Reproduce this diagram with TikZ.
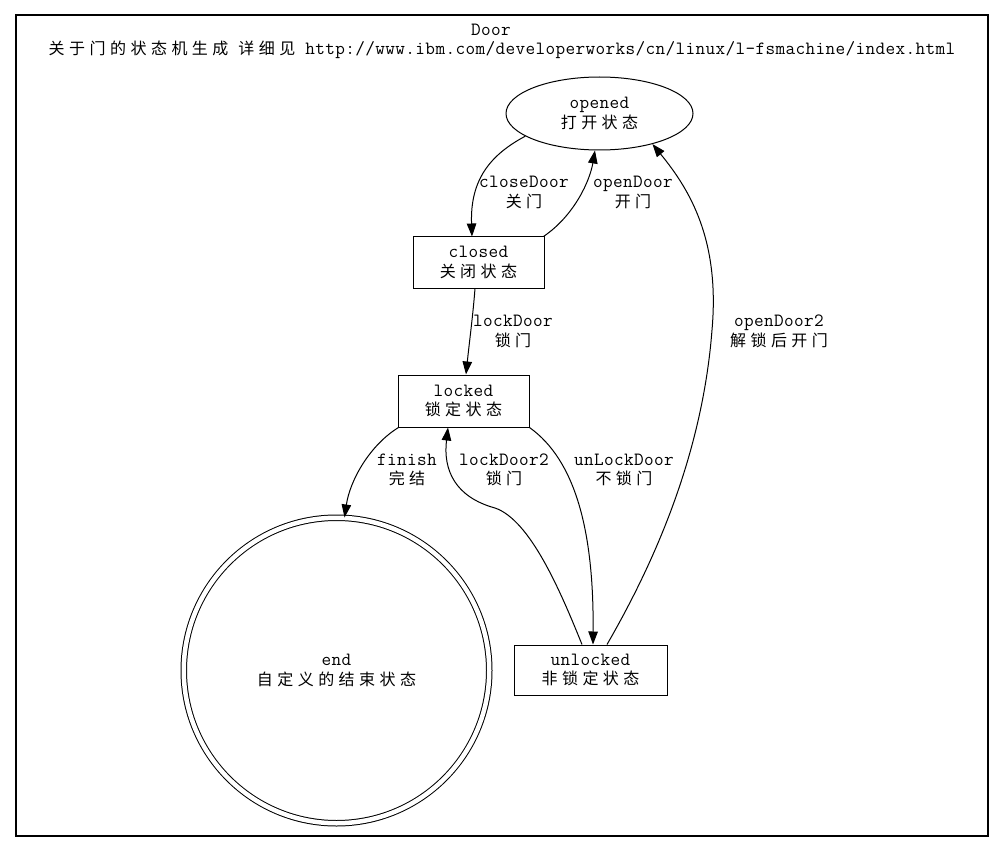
\documentclass[tikz,border=0pt]{standalone}
\usepackage{fontspec}
\setmonofont{Latin Modern Mono}[LetterSpace=2]
\newfontfamily\cjkfont{Noto Sans CJK SC}[LetterSpace=28]
\newcommand\zh[1]{{\cjkfont\fontsize{16}{19.5}\selectfont #1}}
\usetikzlibrary{arrows.meta,calc,shapes.geometric}
\begin{document}
\begin{tikzpicture}[x=1pt,y=-1pt,
  every node/.style={font=\ttfamily\fontsize{18.7}{19.5}\selectfont, align=center},
  statebox/.style={draw, line width=1pt, rectangle, inner sep=0pt},
  stateell/.style={draw, line width=1pt, ellipse, inner sep=0pt},
  endstate/.style={draw, circle, line width=1pt, double, double distance=4.5pt, inner sep=0pt, minimum size=305.5pt},
  elabel/.style={inner sep=0pt},
  tr/.style={line width=1pt, -{Triangle[length=13pt,width=9.5pt]}}
]
\useasboundingbox (0,0) rectangle (1004,853);
\draw[line width=1.3pt] (16,15) rectangle (988,836);
\node[elabel] (title1) at (491,30) {Door};
\node[elabel] (title2) at (502,50) {\zh{关于门的状态机生成} \zh{详细见} http://www.ibm.com/developerworks/cn/linux/l-fsmachine/index.html};

\node[stateell, minimum width=187pt, minimum height=73pt] (opened) at (599.5,113.5) {opened\\\zh{打开状态}};
\node[statebox, minimum width=131pt, minimum height=51pt] (closed) at (478.5,262.5) {closed\\\zh{关闭状态}};
\node[statebox, minimum width=131pt, minimum height=52pt] (locked) at (463.5,401) {locked\\\zh{锁定状态}};
\node[statebox, minimum width=153pt, minimum height=50pt] (unlocked) at (590.5,670) {unlocked\\\zh{非锁定状态}};
\node[endstate] (end) at (336.5,670.5) {end\\\zh{自定义的结束状态}};

% closeDoor
\draw[tr] (opened.197) .. controls (490,155) and (470,180) .. ([xshift=-6.5pt]closed.north);
\node[elabel] (l1) at (524,192.5) {closeDoor\\\zh{关门}};
% openDoor
\draw[tr] ([xshift=-1pt]closed.north east) .. controls (575,215) and (590,180) .. (opened.263);
\node[elabel] (l2) at (633,192.5) {openDoor\\\zh{开门}};
% lockDoor
\draw[tr] ([xshift=-3.5pt]closed.south) .. controls (473,315) and (469,345) .. ([xshift=2.5pt]locked.north);
\node[elabel] (l3) at (513,331.5) {lockDoor\\\zh{锁门}};
% finish
\draw[tr] ([xshift=1pt]locked.south west) .. controls (370,445) and (350,480) .. (end.87);
\node[elabel] (l4) at (407,470) {finish\\\zh{完结}};
% lockDoor2
\draw[tr] ([xshift=-8.5pt]unlocked.north) .. controls (560,590) and (530,520) .. (495,508) .. controls (455,497) and (443,470) .. ([xshift=-15.5pt]locked.south);
\node[elabel] (l5) at (504,470) {lockDoor2\\\zh{锁门}};
% unLockDoor
\draw[tr] (locked.south east) .. controls (575,460) and (594,530) .. ([xshift=2.5pt]unlocked.north);
\node[elabel] (l6) at (624,470) {unLockDoor\\\zh{不锁门}};
% openDoor2
\draw[tr] ([xshift=16.5pt]unlocked.north) .. controls (650,570) and (702,460) .. (712,330) .. controls (720,240) and (690,190) .. (opened.330);
\node[elabel] (l7) at (779,331.5) {openDoor2\\\zh{解锁后开门}};
\end{tikzpicture}
\end{document}
